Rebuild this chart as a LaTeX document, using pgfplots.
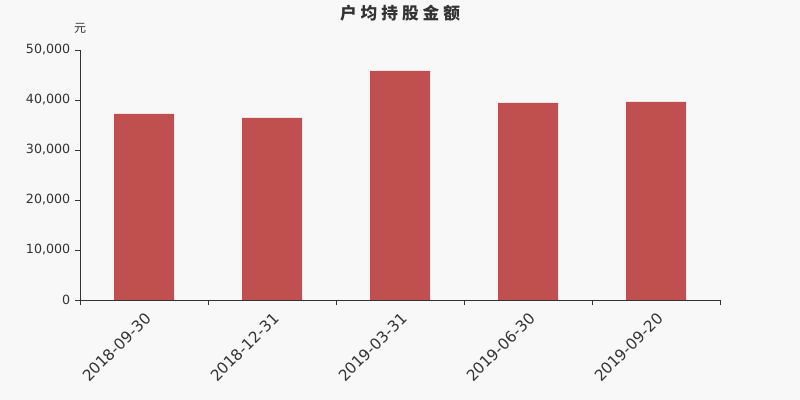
\documentclass[border=0pt]{standalone}
\usepackage{fontspec}
\setmainfont{DejaVu Sans}
\newfontfamily\cjk{Noto Sans CJK SC}
\usepackage{pgfplots}
\pgfplotsset{compat=1.18}
\definecolor{barred}{HTML}{C0504D}
\definecolor{bgc}{HTML}{F8F8F8}
\definecolor{txt}{HTML}{333333}
\begin{document}
\begin{tikzpicture}
\fill[bgc] (0,0) rectangle (600pt,300pt);
\useasboundingbox (0,0) rectangle (600pt,300pt);
\node[font=\cjk\bfseries\fontsize{12.5}{14}\selectfont, text=txt] at (300pt,290.25pt)
  {户\hspace{3pt}均\hspace{3pt}持\hspace{3pt}股\hspace{3pt}金\hspace{3pt}额};
\node[font=\cjk\fontsize{9}{10}\selectfont, text=txt] at (60pt,279pt) {元};
\begin{axis}[
    at={(60pt,75pt)}, anchor=south west,
    scale only axis,
    width=480pt, height=187.5pt,
    xmin=-0.5, xmax=4.5,
    ymin=0, ymax=50000,
    ytick={0,10000,...,50000},
    scaled y ticks=false,
    xtick={0,...,4},
    xticklabels={2018-09-30,2018-12-31,2019-03-31,2019-06-30,2019-09-20},
    minor xtick={-0.5,0.5,...,4.5},
    major x tick style={draw=none},
    minor x tick style={txt},
    y tick style={txt},
    tick align=outside,
    major tick length=3.75pt,
    minor tick length=3.75pt,
    axis x line*=bottom,
    axis y line*=left,
    axis line style={txt},
    /pgf/number format/assume math mode=true,
    /pgf/number format/1000 sep={,},
    y tick label style={font=\fontsize{9.5}{11}\selectfont, text=txt},
    x tick label style={rotate=45, anchor=north east, font=\fontsize{11.5}{13}\selectfont, text=txt},
    ybar,
    bar width=45pt,
]
\addplot[fill=barred, draw=none] coordinates {(0,37200) (1,36400) (2,45800) (3,39400) (4,39600)};
\end{axis}
\end{tikzpicture}
\end{document}
